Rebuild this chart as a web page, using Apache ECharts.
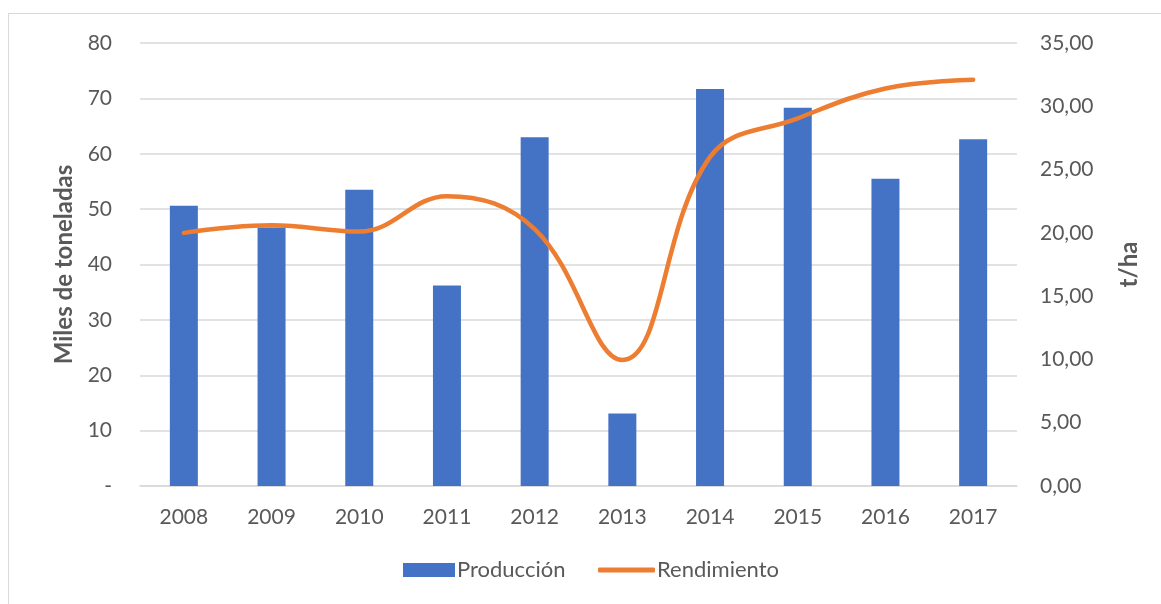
<!DOCTYPE html>
<html>
<head>
<meta charset="utf-8">
<script src="https://cdn.jsdelivr.net/npm/echarts@6/dist/echarts.min.js"></script>
<style>
  html, body { margin: 0; padding: 0; background: #ffffff; }
  #frame { position: absolute; left: 8px; top: 13px; width: 1170px; height: 620px;
           border: 1.5px solid #d9d9d9; box-sizing: border-box; }
  #chart { position: absolute; left: 0; top: 0; width: 1161px; height: 604px; }
</style>
</head>
<body>
<div id="frame"></div>
<div id="chart"></div>
<script>
// Production (thousand tonnes) and yield (t/ha) by year
const years = ['2008', '2009', '2010', '2011', '2012', '2013', '2014', '2015', '2016', '2017'];
const produccion = [50.6, 46.7, 53.5, 36.2, 63.0, 13.1, 71.7, 68.3, 55.5, 62.6];
const rendimiento = [20.0, 20.6, 20.1, 22.9, 20.3, 9.95, 26.0, 29.05, 31.4, 32.1];
const leftTicks = { min: 0, max: 80, interval: 10 };
const rightTicks = { min: 0, max: 35, interval: 5 };

const FONT = 'Lato';
const GREY = '#595959';
const BLUE = '#4472C4';
const ORANGE = '#ED7D31';

const legendText = { fontFamily: FONT, fontSize: 22, color: GREY, padding: [0, 0, 0, -3] };

const chart = echarts.init(document.getElementById('chart'));
chart.setOption({
  backgroundColor: 'transparent',
  animation: false,
  textStyle: { fontFamily: FONT },
  grid: { left: 140, right: 144, top: 43, bottom: 118 },
  legend: [
    {
      left: 403, top: 559, padding: 0,
      itemWidth: 52, itemHeight: 14,
      textStyle: legendText,
      data: [{ name: 'Producción', icon: 'rect' }]
    },
    {
      left: 598, top: 559, padding: 0,
      itemWidth: 57, itemHeight: 5,
      textStyle: legendText,
      data: [{ name: 'Rendimiento', icon: 'roundRect', itemStyle: { color: ORANGE } }]
    }
  ],
  xAxis: {
    type: 'category',
    data: years,
    axisTick: { show: false },
    axisLine: { lineStyle: { color: '#d9d9d9', width: 1.5 } },
    axisLabel: { color: GREY, fontSize: 21, margin: 21, fontFamily: FONT }
  },
  yAxis: [
    {
      type: 'value',
      min: leftTicks.min, max: leftTicks.max, interval: leftTicks.interval,
      name: 'Miles de toneladas',
      nameLocation: 'middle',
      nameGap: 64,
      nameTextStyle: { fontFamily: FONT, fontSize: 24, fontWeight: 'bold', color: GREY },
      axisLine: { show: false },
      axisTick: { show: false },
      splitLine: { lineStyle: { color: '#d9d9d9', width: 1.5 } },
      axisLabel: {
        color: GREY, fontSize: 21, margin: 28, fontFamily: FONT,
        formatter: v => (v === 0 ? '-' : String(v))
      }
    },
    {
      type: 'value',
      min: rightTicks.min, max: rightTicks.max, interval: rightTicks.interval,
      name: 't/ha',
      nameLocation: 'middle',
      nameGap: 100,
      nameRotate: 90,
      nameTextStyle: { fontFamily: FONT, fontSize: 24, fontWeight: 'bold', color: GREY },
      axisLine: { show: false },
      axisTick: { show: false },
      splitLine: { show: false },
      axisLabel: {
        color: GREY, fontSize: 21, margin: 23, fontFamily: FONT,
        formatter: v => v.toFixed(2).replace('.', ',')
      }
    }
  ],
  series: [
    {
      name: 'Producción',
      type: 'bar',
      data: produccion,
      barWidth: 28,
      itemStyle: { color: BLUE }
    },
    {
      name: 'Rendimiento',
      type: 'line',
      yAxisIndex: 1,
      data: rendimiento,
      smooth: 0.4,
      symbol: 'none',
      lineStyle: { color: ORANGE, width: 4.5, cap: 'round' },
      itemStyle: { color: ORANGE }
    }
  ]
});
</script>
</body>
</html>
